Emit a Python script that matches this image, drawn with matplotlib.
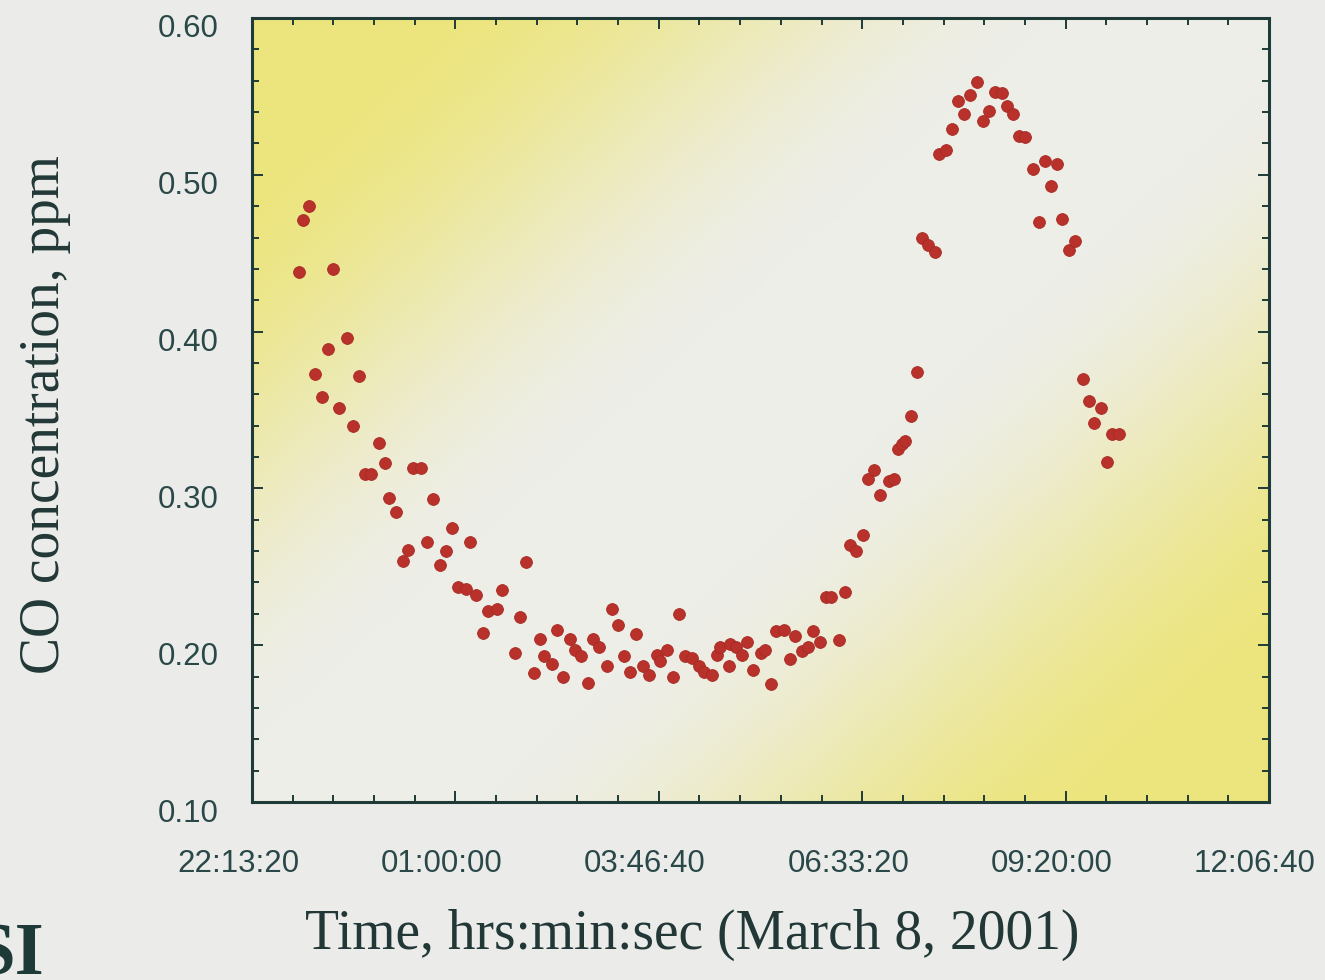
import numpy as np
import matplotlib
matplotlib.use("Agg")
import matplotlib.pyplot as plt
from matplotlib.ticker import MultipleLocator, FuncFormatter
from matplotlib.colors import to_rgb
import matplotlib.transforms as mtransforms

# readings, night of March 7 -> 8, 2001 (clock time, CO in ppm)
times = [
    "22:52", "22:55", "23:00", "23:05", "23:11", "23:16", "23:20", "23:25", "23:31", "23:36",
    "23:41", "23:46", "23:51", "23:57", "00:02", "00:06", "00:11", "00:17", "00:21", "00:25",
    "00:32", "00:37", "00:42", "00:47", "00:52", "00:57", "01:02", "01:09", "01:12", "01:17",
    "01:23", "01:27", "01:34", "01:38", "01:49", "01:53", "01:58", "02:04", "02:09", "02:13",
    "02:19", "02:23", "02:28", "02:34", "02:38", "02:43", "02:49", "02:53", "02:58", "03:04",
    "03:08", "03:13", "03:18", "03:23", "03:28", "03:34", "03:39", "03:45", "03:48", "03:53",
    "03:58", "04:03", "04:08", "04:14", "04:20", "04:24", "04:30", "04:34", "04:37", "04:44",
    "04:45", "04:50", "04:55", "04:59", "05:04", "05:10", "05:14", "05:19", "05:23", "05:29",
    "05:34", "05:38", "05:44", "05:49", "05:53", "05:59", "06:04", "06:08", "06:14", "06:19",
    "06:23", "06:28", "06:34", "06:38", "06:43", "06:48", "06:55", "06:59", "07:03", "07:06",
    "07:08", "07:13", "07:18", "07:22", "07:27", "07:33", "07:36", "07:42", "07:47", "07:52",
    "07:57", "08:02", "08:07", "08:12", "08:17", "08:22", "08:28", "08:32", "08:37", "08:42",
    "08:47", "08:53", "08:58", "09:03", "09:08", "09:13", "09:17", "09:23", "09:28", "09:34",
    "09:39", "09:43", "09:49", "09:54", "09:58", "10:04",
]
co_ppm = [
    0.438, 0.471, 0.480, 0.373, 0.358, 0.389, 0.440, 0.351, 0.396, 0.340,
    0.372, 0.309, 0.309, 0.329, 0.316, 0.294, 0.285, 0.254, 0.261, 0.313,
    0.313, 0.266, 0.293, 0.251, 0.260, 0.275, 0.237, 0.236, 0.266, 0.232,
    0.208, 0.222, 0.223, 0.235, 0.195, 0.218, 0.253, 0.182, 0.204, 0.193,
    0.188, 0.210, 0.180, 0.204, 0.197, 0.193, 0.176, 0.204, 0.199, 0.187,
    0.223, 0.213, 0.193, 0.183, 0.207, 0.187, 0.181, 0.194, 0.190, 0.197,
    0.180, 0.220, 0.193, 0.192, 0.187, 0.183, 0.181, 0.194, 0.199, 0.187,
    0.201, 0.199, 0.194, 0.202, 0.184, 0.195, 0.197, 0.175, 0.209, 0.210,
    0.191, 0.206, 0.196, 0.199, 0.209, 0.202, 0.231, 0.231, 0.203, 0.234,
    0.264, 0.260, 0.270, 0.306, 0.312, 0.296, 0.305, 0.306, 0.325, 0.328,
    0.330, 0.346, 0.374, 0.460, 0.455, 0.451, 0.513, 0.516, 0.529, 0.547,
    0.539, 0.551, 0.559, 0.534, 0.541, 0.553, 0.552, 0.544, 0.539, 0.525,
    0.524, 0.504, 0.470, 0.509, 0.493, 0.507, 0.472, 0.452, 0.458, 0.370,
    0.356, 0.342, 0.351, 0.317, 0.335, 0.335,
]


def to_seconds(hhmm):
    h, m = (int(p) for p in hhmm.split(":"))
    s = h * 3600 + m * 60
    if h < 20:          # after midnight -> next day
        s += 86400
    return s


def hms(x, pos):
    s = int(round(x)) % 86400
    return f"{s // 3600:02d}:{s % 3600 // 60:02d}:{s % 60:02d}"


t = np.array([to_seconds(s) for s in times])
y = np.array(co_ppm)

FRAME = "#1e3b37"
TEXT = "#2a4848"

fig = plt.figure(figsize=(13.25, 9.8), dpi=100, facecolor="#ebebea")
ax = fig.add_axes([252 / 1325, 178 / 980, 1017 / 1325, 784 / 980])

# diagonal yellow/white background
u, v = np.meshgrid(np.linspace(0, 1, 400), np.linspace(1, 0, 300))
s = (u - 0.08) - 0.85 * v
w = np.clip((np.abs(s) - 0.14) / 0.62, 0, 1)
w = w * w * (3 - 2 * w)
yellow = np.array(to_rgb("#ece57e"))
white = np.array(to_rgb("#eeeee8"))
bg = white[None, None, :] * (1 - w[..., None]) + yellow[None, None, :] * w[..., None]
ax.imshow(bg, extent=(0, 1, 0, 1), transform=ax.transAxes, aspect="auto", zorder=0)

ax.plot(t, y, "o", color="#b8312a", ms=8.5, mec="#a82a24", mew=0.6, zorder=3)

ax.set_xlim(80000, 130000)
ax.set_ylim(0.10, 0.60)
ax.xaxis.set_major_locator(MultipleLocator(10000))
ax.xaxis.set_minor_locator(MultipleLocator(2000))
ax.xaxis.set_major_formatter(FuncFormatter(hms))
ax.yaxis.set_major_locator(MultipleLocator(0.10))
ax.yaxis.set_minor_locator(MultipleLocator(0.02))
ax.yaxis.set_major_formatter(FuncFormatter(lambda val, pos: f"{val:.2f}"))

ax.tick_params(which="both", direction="in", top=True, right=True, color=FRAME, width=1.4)
ax.tick_params(which="major", length=8)
ax.tick_params(which="minor", length=5)
ax.tick_params(axis="x", which="major", pad=34, labelsize=22.5, labelcolor=TEXT)
ax.tick_params(axis="y", which="major", pad=24, labelsize=22.5, labelcolor=TEXT)
for sp in ax.spines.values():
    sp.set_color(FRAME)
    sp.set_linewidth(2.2)

for lab in ax.get_xticklabels():
    lab.set_fontfamily("Liberation Sans")
    lab.set_transform(lab.get_transform() + mtransforms.ScaledTranslation(-14 / 100, 0, fig.dpi_scale_trans))
for lab in ax.get_yticklabels():
    lab.set_fontfamily("Liberation Sans")
    lab.set_transform(lab.get_transform() + mtransforms.ScaledTranslation(0, -8 / 100, fig.dpi_scale_trans))

fig.text(45 / 1325, 1 - 415 / 980, "CO concentration, ppm", rotation=90, ha="center", va="center",
         fontsize=40, family="Liberation Serif", color="#223836")
fig.text(692 / 1325, 1 - 935 / 980, "Time, hrs:min:sec (March 8, 2001)", ha="center", va="center",
         fontsize=40, family="Liberation Serif", color="#223836")
fig.text(44 / 1325, 6 / 980, "SI", ha="right", va="baseline", fontsize=54,
         family="Liberation Serif", fontweight="bold", color="#1d3a36")

fig.savefig("out.png", dpi=100, facecolor=fig.get_facecolor())
